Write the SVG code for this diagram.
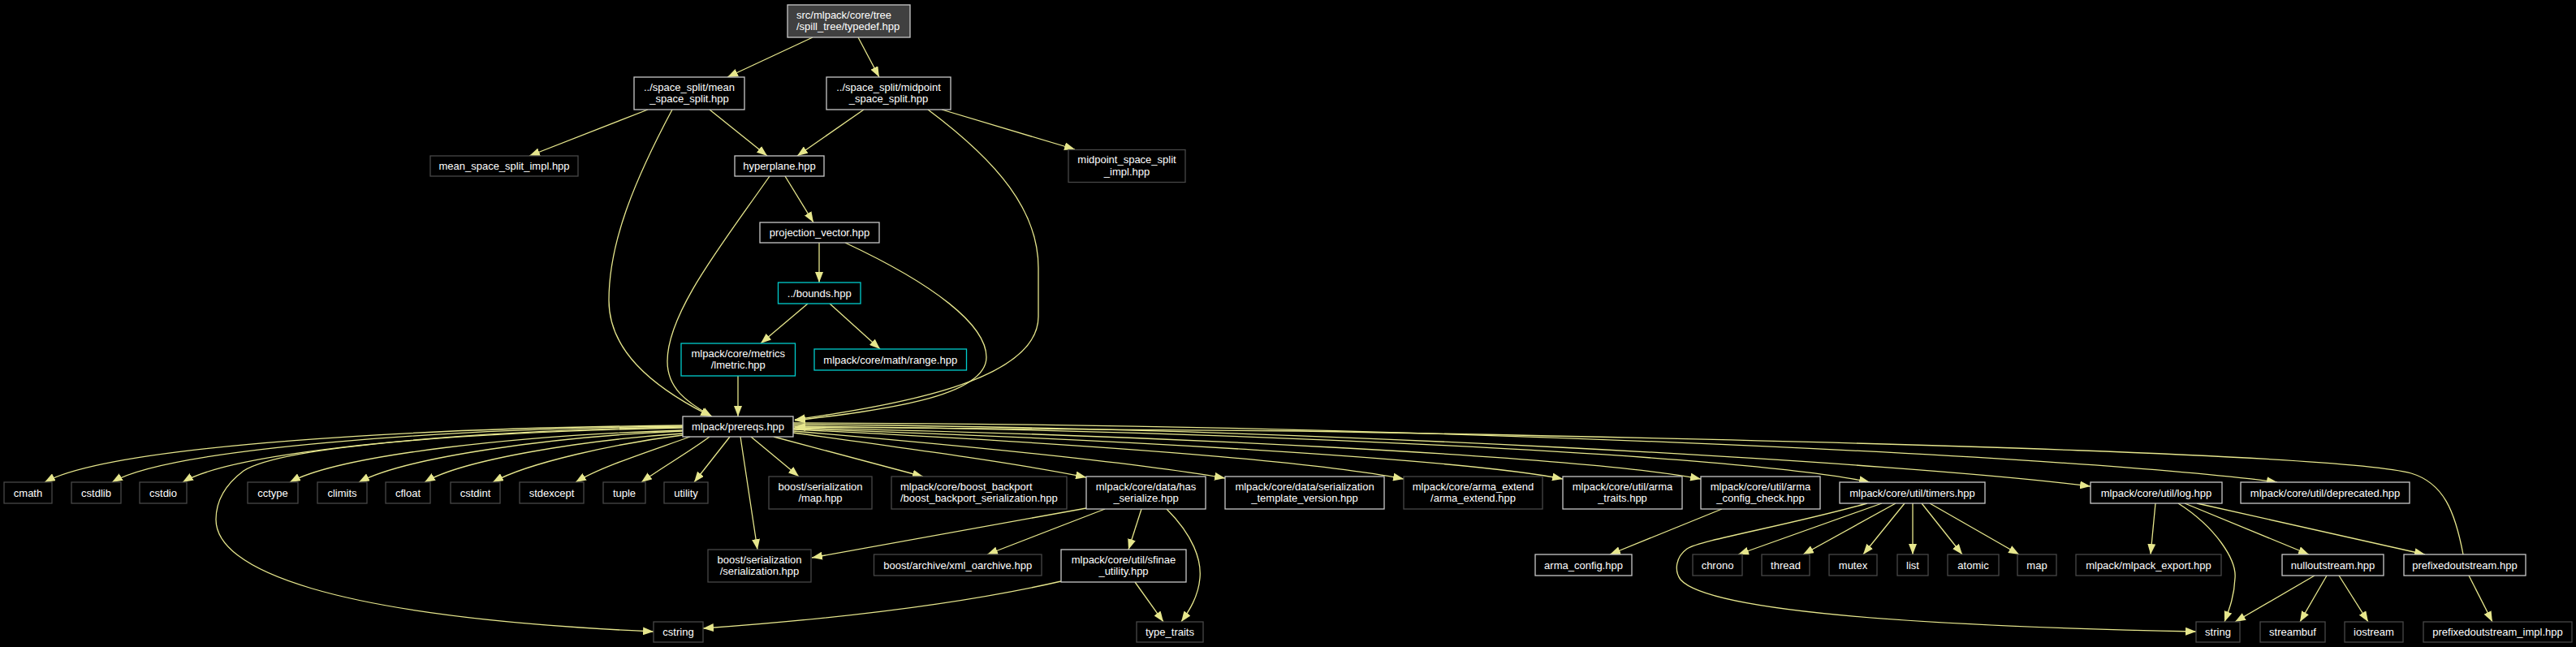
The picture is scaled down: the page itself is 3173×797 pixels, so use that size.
<svg xmlns="http://www.w3.org/2000/svg" width="3173" height="797" viewBox="0 0 3173 797">
<style>
.e{fill:none;stroke:#e6e68c;stroke-width:1.3;marker-end:url(#ah)}
.n rect{fill:#000;stroke:#c8c8c8;stroke-width:1.3}
.x rect{fill:#000;stroke:#474747;stroke-width:1.3}
.c rect{fill:#000;stroke:#00cccc;stroke-width:1.3}
.r rect{fill:#404040;stroke:#c8c8c8;stroke-width:1.3}
text{font-family:"Liberation Sans",Arial,sans-serif;font-size:13px;fill:#fff;text-anchor:middle}
.l{text-anchor:start}
</style>
<defs>
<marker id="ah" viewBox="0 0 13 10" refX="13" refY="5" markerWidth="13" markerHeight="10" markerUnits="userSpaceOnUse" orient="auto"><path d="M0,0 L13,5 L0,10 z" fill="#e6e68c"/></marker>
</defs>
<rect x="0" y="0" width="3173" height="797" fill="#000"/>
<g id="edges">
<path class="e" d="M1001,46 L896,95"/>
<path class="e" d="M1057,46 L1083,95"/>
<path class="e" d="M798,135 L652,192"/>
<path class="e" d="M874,135 L945,192"/>
<path class="e" d="M1064,135 L982,192"/>
<path class="e" d="M1160,135 L1324,184"/>
<path class="e" d="M828,135 C780,225 750,300 750,370 C750,430 800,475 876,513"/>
<path class="e" d="M948,217 C890,300 822,385 822,445 C822,478 845,495 877,513"/>
<path class="e" d="M967,217 L1002,274"/>
<path class="e" d="M1143,135 C1230,200 1279,260 1279,330 L1279,390 C1279,470 1100,500 979,517"/>
<path class="e" d="M1009,299 L1009,348"/>
<path class="e" d="M1041,299 C1150,350 1215,400 1215,440 C1215,490 1080,506 979,518"/>
<path class="e" d="M995,374 L937,423"/>
<path class="e" d="M1022,374 L1084,430"/>
<path class="e" d="M909,463 L909,513"/>
<path class="e" d="M3034,683 C3024,630 3010,595 2970,583 C2900,563 2400,545 1600,531 C1300,527 1100,526 979,526"/>
<path class="e" d="M841,524 C520,527 140,548 55,594"/>
<path class="e" d="M841,525 C550,528 210,552 138,594"/>
<path class="e" d="M841,526 C580,530 290,555 225,594"/>
<path class="e" d="M841,530 C640,536 420,560 357,594"/>
<path class="e" d="M841,531 C680,538 500,563 442,594"/>
<path class="e" d="M841,534 C720,542 570,566 523,594"/>
<path class="e" d="M841,536 C760,546 650,570 607,594"/>
<path class="e" d="M850,538 C800,556 740,575 709,594"/>
<path class="e" d="M874,538 C850,556 815,576 790,594"/>
<path class="e" d="M899,538 L855,594"/>
<path class="e" d="M912,538 L933,677"/>
<path class="e" d="M925,538 L984,587"/>
<path class="e" d="M953,538 L1137,587"/>
<path class="e" d="M841,527 C600,532 350,548 300,580 C280,595 266,615 266,640 C266,700 400,760 805,778"/>
<path class="e" d="M977,533 C1100,550 1250,570 1338,588"/>
<path class="e" d="M977,531 C1200,550 1400,570 1509,589"/>
<path class="e" d="M977,529 C1300,545 1600,565 1729,590"/>
<path class="e" d="M977,528 C1350,540 1800,565 1925,590"/>
<path class="e" d="M977,527 C1400,535 1950,562 2095,590"/>
<path class="e" d="M977,525 C1500,530 2150,560 2303,594"/>
<path class="e" d="M977,523 C1600,526 2350,570 2575,599"/>
<path class="e" d="M977,521 C1700,522 2550,560 2805,594"/>
<path class="e" d="M2318,620 L2141,683"/>
<path class="e" d="M2335,620 L2221,683"/>
<path class="e" d="M2346,620 L2295,683"/>
<path class="e" d="M2356,620 L2356,683"/>
<path class="e" d="M2367,620 L2417,683"/>
<path class="e" d="M2377,620 L2487,683"/>
<path class="e" d="M2300,620 C2200,648 2095,665 2078,676 C2064,686 2062,703 2070,714 C2100,748 2300,770 2705,778"/>
<path class="e" d="M2655,620 L2649,683"/>
<path class="e" d="M2683,620 C2730,650 2755,690 2753,712 C2752,735 2746,750 2740,766"/>
<path class="e" d="M2691,620 L2844,683"/>
<path class="e" d="M2706,620 L2987,683"/>
<path class="e" d="M2851,709 L2753,766"/>
<path class="e" d="M2866,709 L2833,766"/>
<path class="e" d="M2881,709 L2917,766"/>
<path class="e" d="M3041,709 L3070,766"/>
<path class="e" d="M1338,626 L1000,687"/>
<path class="e" d="M1361,627 L1216,683"/>
<path class="e" d="M1406,627 L1390,677"/>
<path class="e" d="M1437,627 C1470,660 1480,690 1478,712 C1476,735 1465,752 1455,766"/>
<path class="e" d="M1398,717 L1433,766"/>
<path class="e" d="M1307,716 C1150,752 950,768 866,774"/>
<path class="e" d="M2121,627 L1983,683"/>
</g>
<g id="root" class="r"><rect x="970" y="6" width="151" height="40"/><text class="l" x="981" y="22.5">src/mlpack/core/tree</text><text class="l" x="981" y="37">/spill_tree/typedef.hpp</text></g>
<g id="mean_ss" class="n"><rect x="781" y="95" width="136" height="40"/><text x="849" y="111.5">../space_split/mean</text><text x="849" y="126">_space_split.hpp</text></g>
<g id="mid_ss" class="n"><rect x="1018" y="95" width="153" height="40"/><text x="1094.5" y="111.5">../space_split/midpoint</text><text x="1094.5" y="126">_space_split.hpp</text></g>
<g id="mean_impl" class="x"><rect x="530" y="192" width="182" height="25"/><text x="621" y="209">mean_space_split_impl.hpp</text></g>
<g id="hyperplane" class="n"><rect x="905" y="192" width="110" height="25"/><text x="960" y="209">hyperplane.hpp</text></g>
<g id="mid_impl" class="x"><rect x="1316" y="184.5" width="144" height="40"/><text x="1388" y="201">midpoint_space_split</text><text x="1388" y="215.5">_impl.hpp</text></g>
<g id="proj" class="n"><rect x="936" y="274" width="147" height="25"/><text x="1009.5" y="291">projection_vector.hpp</text></g>
<g id="bounds" class="c"><rect x="958.5" y="348" width="101.5" height="26"/><text x="1009.25" y="365.5">../bounds.hpp</text></g>
<g id="lmetric" class="c"><rect x="839" y="423" width="140.5" height="40"/><text x="909.25" y="439.5">mlpack/core/metrics</text><text x="909.25" y="454">/lmetric.hpp</text></g>
<g id="range" class="c"><rect x="1003" y="430" width="187.5" height="26"/><text x="1096.75" y="447.5">mlpack/core/math/range.hpp</text></g>
<g id="prereqs" class="n"><rect x="841" y="513" width="136" height="25"/><text x="909" y="530">mlpack/prereqs.hpp</text></g>
<g id="cmath" class="x"><rect x="5" y="594" width="59" height="26"/><text x="34.5" y="611.5">cmath</text></g>
<g id="cstdlib" class="x"><rect x="88" y="594" width="61" height="26"/><text x="118.5" y="611.5">cstdlib</text></g>
<g id="cstdio" class="x"><rect x="172" y="594" width="58" height="26"/><text x="201" y="611.5">cstdio</text></g>
<g id="cctype" class="x"><rect x="305" y="594" width="62" height="26"/><text x="336" y="611.5">cctype</text></g>
<g id="climits" class="x"><rect x="391" y="594" width="61" height="26"/><text x="421.5" y="611.5">climits</text></g>
<g id="cfloat" class="x"><rect x="475" y="594" width="55" height="26"/><text x="502.5" y="611.5">cfloat</text></g>
<g id="cstdint" class="x"><rect x="555" y="594" width="61" height="26"/><text x="585.5" y="611.5">cstdint</text></g>
<g id="stdexcept" class="x"><rect x="640" y="594" width="79" height="26"/><text x="679.5" y="611.5">stdexcept</text></g>
<g id="tuple" class="x"><rect x="743" y="594" width="52" height="26"/><text x="769" y="611.5">tuple</text></g>
<g id="utility" class="x"><rect x="818" y="594" width="54" height="26"/><text x="845" y="611.5">utility</text></g>
<g id="bmap" class="x"><rect x="947" y="587" width="127" height="40"/><text x="1010.5" y="603.5">boost/serialization</text><text x="1010.5" y="618">/map.hpp</text></g>
<g id="backport" class="x"><rect x="1098" y="587" width="216" height="40"/><text class="l" x="1109" y="603.5">mlpack/core/boost_backport</text><text class="l" x="1109" y="618">/boost_backport_serialization.hpp</text></g>
<g id="has_ser" class="n"><rect x="1338" y="587" width="147" height="40"/><text x="1411.5" y="603.5">mlpack/core/data/has</text><text x="1411.5" y="618">_serialize.hpp</text></g>
<g id="ser_tmpl" class="n"><rect x="1509" y="587" width="196" height="40"/><text x="1607" y="603.5">mlpack/core/data/serialization</text><text x="1607" y="618">_template_version.hpp</text></g>
<g id="arma_ext" class="x"><rect x="1729" y="587" width="171" height="40"/><text x="1814.5" y="603.5">mlpack/core/arma_extend</text><text x="1814.5" y="618">/arma_extend.hpp</text></g>
<g id="arma_traits" class="n"><rect x="1925" y="587" width="147" height="40"/><text x="1998.5" y="603.5">mlpack/core/util/arma</text><text x="1998.5" y="618">_traits.hpp</text></g>
<g id="arma_cc" class="n"><rect x="2095" y="587" width="147" height="40"/><text x="2168.5" y="603.5">mlpack/core/util/arma</text><text x="2168.5" y="618">_config_check.hpp</text></g>
<g id="timers" class="n"><rect x="2266" y="594" width="179" height="26"/><text x="2355.5" y="611.5">mlpack/core/util/timers.hpp</text></g>
<g id="log" class="n"><rect x="2575" y="594" width="162" height="26"/><text x="2656" y="611.5">mlpack/core/util/log.hpp</text></g>
<g id="deprecated" class="n"><rect x="2760" y="594" width="208" height="26"/><text x="2864" y="611.5">mlpack/core/util/deprecated.hpp</text></g>
<g id="bser" class="x"><rect x="872" y="677" width="127" height="40"/><text x="935.5" y="693.5">boost/serialization</text><text x="935.5" y="708">/serialization.hpp</text></g>
<g id="xml" class="x"><rect x="1076.5" y="683" width="206.5" height="26"/><text x="1179.75" y="700.5">boost/archive/xml_oarchive.hpp</text></g>
<g id="sfinae" class="n"><rect x="1307" y="677" width="154" height="40"/><text x="1384" y="693.5">mlpack/core/util/sfinae</text><text x="1384" y="708">_utility.hpp</text></g>
<g id="arma_config" class="n"><rect x="1891" y="683" width="119" height="26"/><text x="1950.5" y="700.5">arma_config.hpp</text></g>
<g id="chrono" class="x"><rect x="2085" y="683" width="61" height="26"/><text x="2115.5" y="700.5">chrono</text></g>
<g id="thread" class="x"><rect x="2170" y="683" width="59" height="26"/><text x="2199.5" y="700.5">thread</text></g>
<g id="mutex" class="x"><rect x="2253" y="683" width="59" height="26"/><text x="2282.5" y="700.5">mutex</text></g>
<g id="list" class="x"><rect x="2337" y="683" width="38" height="26"/><text x="2356" y="700.5">list</text></g>
<g id="atomic" class="x"><rect x="2399" y="683" width="63" height="26"/><text x="2430.5" y="700.5">atomic</text></g>
<g id="map" class="x"><rect x="2485" y="683" width="48" height="26"/><text x="2509" y="700.5">map</text></g>
<g id="export" class="x"><rect x="2557" y="683" width="179" height="26"/><text x="2646.5" y="700.5">mlpack/mlpack_export.hpp</text></g>
<g id="nullout" class="n"><rect x="2811" y="683" width="125" height="26"/><text x="2873.5" y="700.5">nulloutstream.hpp</text></g>
<g id="prefixed" class="n"><rect x="2961" y="683" width="150" height="26"/><text x="3036" y="700.5">prefixedoutstream.hpp</text></g>
<g id="cstring" class="x"><rect x="805" y="766" width="61" height="25"/><text x="835.5" y="783">cstring</text></g>
<g id="type_traits" class="x"><rect x="1400" y="766" width="82" height="25"/><text x="1441" y="783">type_traits</text></g>
<g id="string" class="x"><rect x="2705" y="766" width="54" height="25"/><text x="2732" y="783">string</text></g>
<g id="streambuf" class="x"><rect x="2784" y="766" width="80" height="25"/><text x="2824" y="783">streambuf</text></g>
<g id="iostream" class="x"><rect x="2888" y="766" width="72" height="25"/><text x="2924" y="783">iostream</text></g>
<g id="pimpl" class="x"><rect x="2985" y="766" width="183" height="25"/><text x="3076.5" y="783">prefixedoutstream_impl.hpp</text></g>
</svg>
